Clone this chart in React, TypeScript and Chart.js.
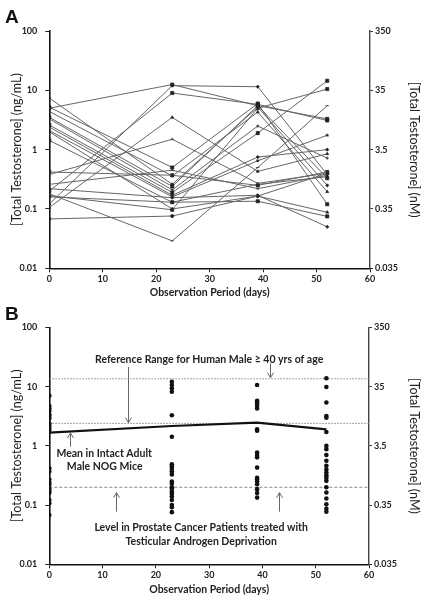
import React, { useEffect, useRef } from "react";
import { Chart, registerables } from "chart.js";
Chart.register(...registerables);

const FONT = "Lato, 'DejaVu Sans', sans-serif";

// Observation days
const DAYS = [0, 23, 39, 52];
// Panel A: total testosterone (ng/mL) per mouse at each observation day (index = mouse)
const DAY0 = [5.0, 0.121, 0.2, 0.106, 0.38, 7.4, 5.2, 4.4, 3.5, 3.3, 2.6, 2.4, 2.1, 2.0, 1.43, 0.42, 0.26, 0.22, 0.18, 0.168, 0.16, 0.068];
const DAY23 = [12.5, 12.0, 9.0, 3.5, 1.5, 0.26, 0.5, 0.36, 0.24, 0.21, 0.19, 0.17, 0.16, 0.1, 0.13, 0.37, 0.45, 0.155, 0.029, 0.097, 0.13, 0.076];
const DAY39 = [5.5, 11.5, 5.8, 0.43, 0.27, 5.2, 6.0, 4.3, 5.5, 2.5, 1.9, 0.75, 0.65, 0.165, 0.135, 0.25, 0.22, 0.17, 0.5, 5.0, 0.26, 0.165];
const DAY52 = [3.3, 0.38, 3.1, 0.85, 0.4, 0.25, 0.12, 0.195, 0.33, 0.72, 14.5, 1.0, 1.75, 0.088, 0.075, 0.42, 0.37, 0.05, 5.5, 10.5, 0.35, 0.4];

// Panel B: individual values (ng/mL) plotted as dots at each day
const B_DAY0 = [7.0, 4.7, 4.3, 3.9, 3.4, 3.2, 2.9, 2.4, 2.2, 2.0, 1.86, 0.42, 0.37, 0.27, 0.24, 0.22, 0.19, 0.175, 0.162, 0.122, 0.107, 0.068];
const B_DAY23 = [12.1, 10.7, 9.4, 8.2, 3.3, 1.43, 0.49, 0.45, 0.41, 0.37, 0.33, 0.25, 0.23, 0.2, 0.19, 0.17, 0.155, 0.14, 0.122, 0.1, 0.092, 0.076];
const B_DAY39 = [10.7, 5.8, 5.4, 5.1, 4.7, 4.3, 1.9, 1.8, 0.77, 0.7, 0.64, 0.43, 0.29, 0.27, 0.25, 0.225, 0.186, 0.16, 0.134];
const B_DAY52 = [13.9, 9.9, 5.4, 3.2, 3.0, 1.72, 1.0, 0.88, 0.7, 0.56, 0.46, 0.4, 0.355, 0.32, 0.29, 0.257, 0.2, 0.163, 0.129, 0.103, 0.087, 0.077];

// Mean in intact adult male NOG mice (ng/mL)
const MEAN_INTACT = [1.67, 2.17, 2.47, 1.9];
// Human male >= 40 yrs reference range (ng/mL)
const HUMAN_RANGE_LOW = 2.4;
const HUMAN_RANGE_HIGH = 13.6;
// Castrate level (ng/mL)
const CASTRATE_LEVEL = 0.2;

const X_TICKS = [0, 10, 20, 30, 40, 50, 60];
const LEFT_TICKS = [0.01, 0.1, 1, 10, 100];
const LEFT_LABELS = ["0.01", "0.1", "1", "10", "100"];
const RIGHT_TICKS = [0.035, 0.35, 3.5, 35, 350];
const RIGHT_LABELS = ["0.035", "0.35", "3.5", "35", "350"];

const TEXTS_B = [
  { text: "Reference Range for Human Male \u2265 40 yrs of age", x: 30, y: 28.2 },
  { text: "Mean in Intact Adult", x: 10.3, y: 0.73 },
  { text: "Male NOG Mice", x: 10.4, y: 0.44 },
  { text: "Level in Prostate Cancer Patients treated with", x: 28.5, y: 0.041 },
  { text: "Testicular Androgen Deprivation", x: 28.5, y: 0.024 },
];
const ARROWS_B = [
  { x: 41.4, from: 25, to: 14.2 },
  { x: 14.7, from: 21.5, to: 2.47 },
  { x: 3.9, from: 0.97, to: 1.65 },
  { x: 12.5, from: 0.0775, to: 0.162 },
  { x: 43.2, from: 0.0775, to: 0.162 },
];

const MARKERS = ["rect", "rectRot", "rect", "triangle", "crossRot", "rectRot", "rect", "triangle", "rect", "cross", "rect", "rectRot", "star", "triangle", "rect", "rect", "crossRot", "rectRot", "line", "rect", "triangle", "circle"];

type Panel = {
  letter: string;
  letterY: number;
  top: number;
  xAxisH: number;
  leftW: number;
  rightW: number;
  xTitlePad: number;
};

const PANEL_A: Panel = { letter: "A", letterY: 23, top: 31, xAxisH: 31.7, leftW: 49.3, rightW: 56, xTitlePad: 1.4 };
const PANEL_B: Panel = { letter: "B", letterY: 20, top: 27.5, xAxisH: 35.7, leftW: 49.3, rightW: 57, xTitlePad: 4 };

const tickFont = { family: FONT, size: 9, weight: "bold" as const };
const titleFont = { family: FONT, size: 12.5, weight: "normal" as const };

function makeScales(p: Panel): any {
  return {
    x: {
      type: "linear",
      min: 0,
      max: 60,
      afterBuildTicks: (ax: any) => {
        ax.ticks = X_TICKS.map((v) => ({ value: v }));
      },
      afterFit: (ax: any) => {
        ax.height = p.xAxisH;
      },
      ticks: { font: tickFont, color: "#222", padding: 1, autoSkip: false, maxRotation: 0, callback: (v: any) => String(v) },
      grid: { display: true, drawOnChartArea: false, drawTicks: true, tickLength: 4, color: "#222", lineWidth: 1 },
      border: { display: true, color: "#111", width: 1.6 },
      title: {
        display: true,
        text: "Observation Period (days)",
        font: { family: FONT, size: 10.5, weight: "bold" },
        color: "#222",
        padding: { top: 0, bottom: p.xTitlePad },
      },
    },
    y: {
      type: "logarithmic",
      position: "left",
      min: 0.01,
      max: 100,
      afterBuildTicks: (ax: any) => {
        ax.ticks = LEFT_TICKS.map((v) => ({ value: v }));
      },
      afterFit: (ax: any) => {
        ax.width = p.leftW;
      },
      ticks: { font: tickFont, color: "#222", padding: 8, autoSkip: false, callback: (_v: any, i: number) => LEFT_LABELS[i] },
      grid: { display: true, drawOnChartArea: false, drawTicks: true, tickLength: 4, color: "#222", lineWidth: 1 },
      border: { display: true, color: "#111", width: 1.6 },
      title: { display: true, text: "[Total Testosterone] (ng/mL)", font: titleFont, color: "#222", padding: { top: 9, bottom: 0 } },
    },
    y2: {
      type: "logarithmic",
      position: "right",
      min: 0.035,
      max: 350,
      afterBuildTicks: (ax: any) => {
        ax.ticks = RIGHT_TICKS.map((v) => ({ value: v }));
      },
      afterFit: (ax: any) => {
        ax.width = p.rightW;
      },
      ticks: { font: tickFont, color: "#222", padding: 2, autoSkip: false, callback: (_v: any, i: number) => RIGHT_LABELS[i] },
      grid: { display: true, drawOnChartArea: false, drawTicks: true, tickLength: 3, color: "#333", lineWidth: 1 },
      border: { display: true, color: "#444", width: 1.4 },
      title: { display: true, text: "[Total Testosterone] (nM)", font: titleFont, color: "#222", padding: { top: 4, bottom: 0 } },
    },
  };
}

function makeDecor(p: Panel, withNotes: boolean) {
  return {
    id: "decor" + p.letter,
    afterDraw(chart: any) {
      const ctx = chart.ctx as CanvasRenderingContext2D;
      ctx.save();
      ctx.fillStyle = "#111";
      ctx.textAlign = "left";
      ctx.textBaseline = "alphabetic";
      ctx.font = "bold 19px 'Liberation Sans', Arial, sans-serif";
      ctx.fillText(p.letter, 5, p.letterY);
      if (withNotes) {
        const xs = chart.scales.x;
        const ys = chart.scales.y;
        ctx.strokeStyle = "#666";
        ctx.lineWidth = 1;
        for (const a of ARROWS_B) {
          const x = Math.round(xs.getPixelForValue(a.x)) + 0.5;
          const y1 = ys.getPixelForValue(a.from);
          const y2 = ys.getPixelForValue(a.to);
          const dir = y2 > y1 ? 1 : -1;
          ctx.beginPath();
          ctx.moveTo(x, y1);
          ctx.lineTo(x, y2);
          ctx.moveTo(x - 3, y2 - dir * 5);
          ctx.lineTo(x, y2);
          ctx.lineTo(x + 3, y2 - dir * 5);
          ctx.stroke();
        }
        ctx.fillStyle = "#222";
        ctx.textAlign = "center";
        ctx.textBaseline = "middle";
        ctx.font = `bold 10.5px ${FONT}`;
        for (const t of TEXTS_B) {
          ctx.fillText(t.text, xs.getPixelForValue(t.x), ys.getPixelForValue(t.y));
        }
      }
      ctx.restore();
    },
  };
}

function configA(): any {
  const series = DAY0.map((_, i) => [DAY0[i], DAY23[i], DAY39[i], DAY52[i]]);
  const datasets = series.map((vals, i) => {
    const st = MARKERS[i % MARKERS.length];
    return {
      type: "line",
      label: "Mouse " + (i + 1),
      data: vals.map((v, k) => ({ x: DAYS[k], y: v })),
      borderColor: "#666",
      borderWidth: 1,
      pointStyle: st,
      pointRadius: st === "rect" ? 2.2 : 1.6,
      pointBackgroundColor: "#222",
      pointBorderColor: "#222",
      pointBorderWidth: 0.8,
      tension: 0,
      yAxisID: "y",
    };
  });
  return {
    type: "line",
    data: { datasets },
    options: {
      animation: false,
      responsive: false,
      maintainAspectRatio: false,
      devicePixelRatio: 1,
      layout: { padding: { top: PANEL_A.top, left: 0, right: 0, bottom: 0 } },
      plugins: { legend: { display: false }, tooltip: { enabled: false } },
      scales: makeScales(PANEL_A),
    },
    plugins: [makeDecor(PANEL_A, false)],
  };
}

function configB(): any {
  const dayArrays = [B_DAY0, B_DAY23, B_DAY39, B_DAY52];
  const dots: { x: number; y: number }[] = [];
  dayArrays.forEach((arr, k) => arr.forEach((v) => dots.push({ x: DAYS[k], y: v })));
  const hline = (v: number) => [
    { x: 0, y: v },
    { x: 60, y: v },
  ];
  return {
    type: "line",
    data: {
      datasets: [
        { type: "scatter", label: "Individual mice", data: dots, pointRadius: 2.3, pointBackgroundColor: "#111", pointBorderColor: "#111", borderWidth: 0, showLine: false, order: 0, yAxisID: "y" },
        { type: "line", label: "Mean intact NOG", data: MEAN_INTACT.map((v, k) => ({ x: DAYS[k], y: v })), borderColor: "#111", borderWidth: 2.2, pointRadius: 0, tension: 0, order: 1, yAxisID: "y" },
        { type: "line", label: "Human high", data: hline(HUMAN_RANGE_HIGH), borderColor: "#888", borderWidth: 1, borderDash: [1.5, 1.5], pointRadius: 0, order: 2, yAxisID: "y" },
        { type: "line", label: "Human low", data: hline(HUMAN_RANGE_LOW), borderColor: "#888", borderWidth: 1, borderDash: [1.5, 1.5], pointRadius: 0, order: 2, yAxisID: "y" },
        { type: "line", label: "Castrate", data: hline(CASTRATE_LEVEL), borderColor: "#888", borderWidth: 1, borderDash: [3, 2], pointRadius: 0, order: 2, yAxisID: "y" },
      ],
    },
    options: {
      animation: false,
      responsive: false,
      maintainAspectRatio: false,
      devicePixelRatio: 1,
      layout: { padding: { top: PANEL_B.top, left: 0, right: 0, bottom: 0 } },
      plugins: { legend: { display: false }, tooltip: { enabled: false } },
      scales: makeScales(PANEL_B),
    },
    plugins: [makeDecor(PANEL_B, true)],
  };
}

export default function App() {
  const refA = useRef<HTMLCanvasElement>(null);
  const refB = useRef<HTMLCanvasElement>(null);
  useEffect(() => {
    const a = new Chart(refA.current!, configA());
    const b = new Chart(refB.current!, configB());
    return () => {
      a.destroy();
      b.destroy();
    };
  }, []);
  return (
    <div style={{ position: "absolute", left: 0, top: 0, width: 426, height: 600, background: "#fff" }}>
      <canvas ref={refA} width={426} height={300} style={{ display: "block", width: 426, height: 300 }} />
      <canvas ref={refB} width={426} height={300} style={{ display: "block", width: 426, height: 300 }} />
    </div>
  );
}
